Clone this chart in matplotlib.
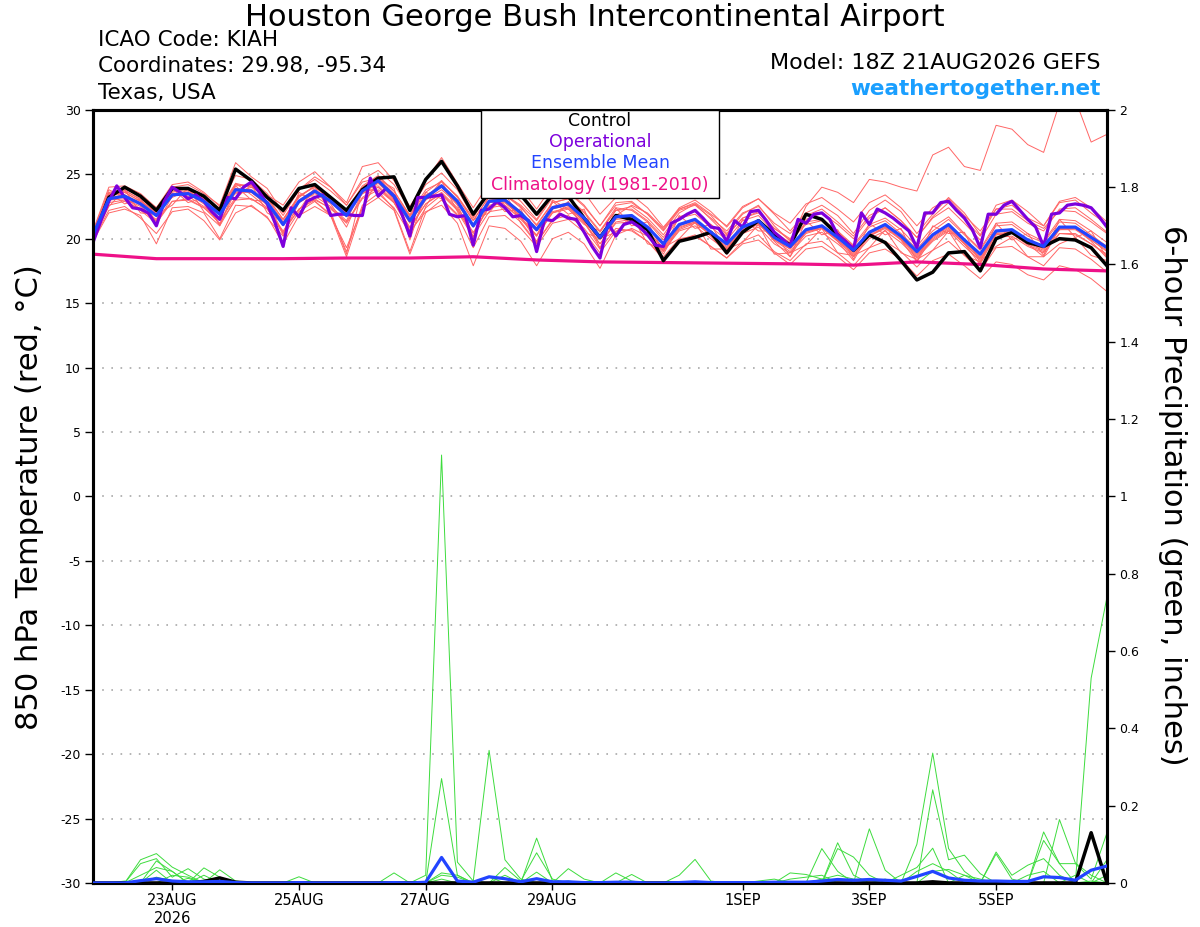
import numpy as np
import matplotlib
matplotlib.use("Agg")
import matplotlib.pyplot as plt
from matplotlib.patches import Rectangle

plt.rcParams['font.family'] = ['DejaVu Sans']
plt.rcParams['axes.unicode_minus'] = False

# ---------------- data ----------------
START = np.datetime64('2026-08-21T18:00')

CONTROL_T = [
    20.0, 23.2, 24.0, 23.3, 22.2, 23.9, 23.9, 23.3, 22.2, 25.4,
    24.5, 23.2, 22.2, 23.9, 24.2, 23.2, 22.2, 23.8, 24.7, 24.8,
    22.2, 24.6, 26.0, 24.1, 21.9, 23.6, 24.0, 23.4, 21.9, 23.4,
    23.3, 21.6, 20.1, 21.8, 21.5, 20.7, 18.3, 19.8, 20.1, 20.5,
    18.9, 20.5, 21.4, 20.3, 19.5, 21.9, 21.5, 20.3, 19.1, 20.3,
    19.7, 18.3, 16.8, 17.4, 18.9, 19.0, 17.5, 20.0, 20.5, 19.7,
    19.4, 20.0, 19.9, 19.3, 17.9]

MEAN_T = [
    20.3, 23.1, 23.3, 22.7, 21.8, 23.4, 23.5, 22.9, 21.9, 23.8,
    23.7, 22.8, 21.1, 22.9, 23.7, 22.9, 21.8, 23.7, 24.5, 23.3,
    21.4, 23.2, 24.1, 22.9, 21.0, 22.9, 23.0, 22.0, 20.7, 22.4,
    22.7, 21.6, 20.1, 21.7, 21.8, 20.9, 19.6, 21.1, 21.5, 20.5,
    19.6, 20.9, 21.4, 20.1, 19.4, 20.7, 21.0, 20.1, 19.1, 20.5,
    21.1, 20.2, 19.0, 20.3, 21.1, 19.9, 18.8, 20.6, 20.7, 19.9,
    19.4, 20.9, 20.9, 20.1, 19.3]

# operational run is 3-hourly
OPER_T = [
    19.7, 21.4, 22.9, 24.1, 23.2, 22.4, 22.3, 22.0, 21.0, 22.9,
    24.0, 23.6, 23.1, 23.4, 22.9, 22.1, 21.5, 23.2, 23.1, 24.0,
    24.4, 23.6, 22.7, 21.2, 19.4, 22.4, 21.7, 22.9, 23.2, 23.4,
    21.8, 21.9, 21.9, 21.8, 21.8, 24.7, 23.3, 23.9, 23.3, 21.9,
    20.2, 23.2, 23.2, 23.3, 23.4, 21.9, 21.7, 21.8, 19.5, 22.2,
    22.3, 22.9, 22.4, 21.7, 21.8, 21.4, 19.0, 21.5, 21.4, 21.9,
    21.6, 21.5, 20.5, 19.4, 18.5, 21.2, 20.2, 21.1, 21.3, 20.9,
    20.3, 19.5, 19.4, 21.2, 21.5, 21.9, 22.2, 21.6, 20.9, 20.8,
    19.8, 21.4, 20.9, 22.1, 22.2, 21.4, 20.5, 20.0, 19.4, 21.5,
    21.2, 21.9, 22.0, 21.5, 20.3, 19.8, 19.2, 22.0, 21.1, 22.3,
    22.0, 21.6, 21.1, 20.6, 19.3, 22.0, 22.0, 22.8, 22.9, 22.2,
    21.6, 20.7, 19.3, 21.9, 21.9, 22.6, 22.9, 22.2, 21.5, 20.9,
    19.4, 21.9, 22.0, 22.6, 22.7, 22.6, 22.4, 21.7, 20.9]

# climatology, daily (18Z)
CLIM_T = [18.8, 18.45, 18.45, 18.45, 18.5, 18.5, 18.6, 18.35, 18.2,
          18.15, 18.1, 18.05, 17.95, 18.2, 18.0, 17.65, 17.5]

MEMBERS_T = [
    [20.6, 24.0, 24.1, 23.5, 22.4, 24.2, 24.4, 23.6, 22.5, 24.9,
     24.6, 23.5, 21.8, 23.8, 24.6, 23.7, 22.6, 24.6, 25.3, 24.2,
     22.3, 24.2, 25.1, 23.8, 21.7, 23.9, 24.0, 22.9, 21.5, 23.4,
     23.7, 22.6, 21.0, 22.8, 22.9, 21.9, 20.6, 22.2, 22.6, 21.6,
     20.6, 22.0, 22.5, 21.2, 20.4, 21.8, 22.3, 21.3, 20.2, 21.8,
     22.4, 21.4, 20.1, 21.6, 22.4, 21.2, 19.9, 21.9, 22.1, 21.2,
     20.6, 22.3, 22.4, 21.5, 20.5],
    [19.8, 22.0, 22.3, 21.8, 19.6, 22.4, 22.5, 22.0, 20.0, 22.6,
     22.5, 21.7, 19.6, 21.8, 22.5, 21.8, 18.6, 22.4, 23.2, 22.2,
     18.8, 22.0, 23.0, 21.8, 19.3, 21.7, 21.8, 20.8, 19.4, 21.2,
     21.5, 20.5, 18.9, 20.6, 20.7, 19.8, 18.4, 19.9, 20.3, 19.4,
     18.5, 19.8, 20.3, 19.0, 18.3, 19.6, 19.8, 18.9, 17.9, 19.3,
     19.8, 19.0, 17.8, 19.1, 19.8, 18.7, 17.5, 19.3, 19.4, 18.6,
     17.9, 19.3, 19.2, 18.4, 17.4],
    [20.1, 23.4, 23.6, 22.9, 22.1, 23.2, 23.8, 23.1, 22.3, 23.5,
     24.0, 23.2, 21.5, 23.2, 24.1, 23.0, 22.0, 24.0, 24.8, 23.7,
     21.8, 23.0, 24.5, 23.2, 21.4, 23.3, 23.4, 22.5, 21.0, 22.8,
     23.1, 22.1, 20.6, 22.2, 22.5, 21.6, 20.3, 22.0, 22.7, 21.8,
     20.4, 21.9, 22.6, 21.0, 19.8, 22.5, 24.0, 23.6, 22.8, 24.6,
     24.4, 24.0, 23.7, 26.5, 27.1, 25.6, 25.3, 28.8, 28.5, 27.3,
     26.7, 30.5, 30.8, 27.5, 28.1],
    [20.0, 22.8, 23.0, 22.2, 21.2, 22.9, 23.1, 22.4, 21.2, 23.0,
     23.1, 22.3, 20.5, 22.3, 23.0, 22.4, 21.2, 23.1, 23.8, 22.8,
     20.8, 22.7, 23.5, 22.3, 20.2, 22.1, 22.3, 21.3, 19.7, 21.5,
     21.8, 20.8, 19.2, 20.8, 20.6, 19.8, 18.6, 20.0, 20.2, 19.4,
     18.5, 19.6, 19.9, 18.9, 18.0, 19.2, 19.4, 18.6, 17.6, 18.9,
     19.2, 18.4, 17.1, 18.3, 18.8, 17.9, 16.9, 18.2, 18.0, 17.2,
     16.8, 17.9, 17.6, 16.9, 15.9],
    [20.4, 23.3, 23.6, 22.9, 22.0, 23.6, 23.9, 23.2, 22.1, 24.1,
     24.2, 23.1, 21.3, 23.3, 24.0, 23.0, 22.0, 23.5, 24.0, 22.8,
     20.6, 22.1, 22.6, 21.2, 17.9, 21.0, 20.8, 19.8, 17.9, 20.0,
     20.5, 19.6, 17.7, 20.3, 20.8, 20.2, 19.0, 20.7, 21.2, 20.3,
     19.2, 20.6, 21.1, 20.0, 19.2, 20.5, 20.9, 19.9, 18.8, 20.2,
     20.8, 19.9, 18.6, 19.9, 20.7, 19.6, 18.5, 20.3, 20.4, 19.5,
     19.0, 20.4, 20.3, 19.6, 18.7],
    [20.2, 23.5, 23.9, 23.3, 22.4, 24.0, 24.2, 23.5, 22.6, 25.9,
     24.8, 23.9, 22.0, 23.8, 24.8, 24.0, 22.8, 25.6, 25.9, 24.5,
     22.5, 24.5, 26.3, 24.3, 22.4, 24.3, 24.8, 23.9, 22.3, 24.1,
     24.6, 23.6, 21.9, 23.2, 23.4, 22.4, 20.9, 22.3, 22.7, 21.5,
     20.3, 21.6, 22.0, 20.8, 19.9, 21.1, 21.4, 20.5, 19.4, 20.9,
     21.4, 20.4, 19.2, 20.6, 21.5, 20.3, 19.1, 21.0, 21.1, 20.2,
     19.7, 21.3, 21.2, 20.3, 19.4],
    [19.9, 22.2, 22.5, 21.6, 20.4, 22.1, 22.3, 21.4, 19.9, 22.0,
     22.6, 21.6, 20.2, 22.1, 22.9, 21.9, 19.0, 22.6, 23.5, 22.4,
     20.4, 22.4, 23.4, 22.2, 20.4, 22.5, 22.8, 21.7, 20.2, 22.0,
     22.5, 21.3, 19.6, 21.3, 21.5, 20.6, 19.2, 20.8, 21.3, 20.2,
     19.3, 20.6, 21.2, 19.9, 19.0, 20.4, 20.8, 19.8, 18.7, 20.2,
     20.9, 20.0, 18.7, 20.0, 20.8, 19.6, 18.4, 20.3, 20.5, 19.6,
     19.1, 20.7, 20.8, 19.9, 19.0],
    [20.5, 23.8, 23.2, 22.3, 21.5, 23.9, 23.3, 22.5, 21.6, 24.3,
     23.4, 22.4, 21.5, 23.4, 23.3, 22.5, 21.4, 23.9, 24.1, 22.9,
     21.9, 23.8, 24.4, 23.3, 21.6, 23.7, 22.6, 21.5, 20.2, 23.0,
     22.3, 21.1, 20.6, 22.4, 22.2, 21.3, 19.9, 21.6, 21.9, 20.9,
     19.9, 21.4, 21.8, 20.5, 19.7, 21.3, 21.5, 20.6, 19.5, 21.1,
     21.6, 20.7, 19.4, 20.9, 21.7, 20.4, 19.2, 21.2, 21.3, 20.4,
     19.8, 21.5, 21.4, 20.6, 19.7],
    [20.1, 22.6, 22.9, 22.3, 21.4, 22.9, 23.0, 22.4, 21.4, 23.2,
     23.1, 22.3, 20.6, 22.3, 23.1, 22.3, 21.3, 23.2, 24.0, 22.8,
     20.9, 22.7, 23.6, 22.4, 20.5, 22.4, 22.6, 21.6, 20.3, 22.0,
     22.3, 21.2, 19.6, 21.2, 21.3, 20.4, 19.1, 20.6, 21.0, 20.0,
     19.1, 20.4, 20.9, 19.6, 18.9, 20.2, 20.5, 19.6, 18.6, 20.0,
     20.6, 19.7, 18.5, 19.8, 20.6, 19.4, 18.3, 20.1, 20.2, 19.4,
     18.9, 20.4, 20.4, 19.6, 18.8],
    [20.3, 23.4, 23.7, 23.1, 22.2, 23.8, 23.9, 23.3, 22.3, 24.2,
     24.1, 23.2, 21.5, 23.3, 24.1, 23.3, 22.2, 24.1, 24.9, 23.7,
     21.8, 23.6, 24.5, 23.3, 21.4, 23.3, 23.4, 22.4, 21.1, 22.8,
     23.1, 22.0, 20.5, 22.2, 22.3, 21.4, 20.1, 21.7, 22.1, 21.1,
     20.2, 21.6, 22.1, 20.8, 20.0, 21.5, 22.0, 21.1, 20.0, 21.6,
     22.4, 21.4, 20.1, 21.7, 22.8, 21.5, 20.2, 22.3, 22.6, 21.6,
     21.0, 22.8, 23.0, 22.0, 21.1],
    [20.2, 23.0, 23.1, 22.5, 21.9, 23.5, 23.6, 23.0, 22.4, 24.3,
     24.0, 23.4, 22.6, 24.4, 25.2, 24.0, 22.6, 24.4, 24.7, 23.5,
     21.7, 23.4, 24.0, 22.7, 20.9, 22.6, 22.8, 21.8, 20.6, 22.1,
     22.4, 21.4, 19.9, 21.5, 21.6, 20.6, 19.3, 20.9, 21.3, 20.3,
     19.4, 20.7, 21.2, 19.9, 19.2, 20.5, 20.8, 19.9, 18.9, 20.3,
     20.9, 20.0, 18.8, 20.1, 20.9, 19.7, 18.6, 20.4, 20.5, 19.7,
     19.2, 20.7, 20.7, 19.9, 19.1],
    [20.0, 22.5, 23.8, 22.0, 21.9, 22.6, 24.0, 22.1, 21.0, 24.1,
     23.0, 22.9, 20.4, 23.6, 22.9, 21.8, 19.3, 22.4, 24.6, 23.9,
     19.9, 23.6, 23.1, 21.9, 21.5, 22.0, 23.6, 21.2, 19.6, 22.9,
     21.9, 22.3, 19.2, 22.4, 21.0, 21.3, 19.0, 21.8, 20.8, 21.1,
     19.0, 21.5, 20.6, 20.6, 18.6, 21.4, 20.3, 20.7, 18.4, 21.2,
     20.3, 20.8, 18.2, 21.0, 20.4, 20.5, 18.1, 21.2, 19.9, 20.4,
     18.7, 21.5, 20.1, 20.6, 18.5],
    [20.4, 23.2, 23.4, 22.8, 21.9, 23.5, 23.6, 23.0, 22.0, 23.9,
     23.8, 22.9, 21.2, 23.0, 23.8, 23.0, 21.9, 23.8, 24.6, 23.4,
     21.5, 23.3, 24.2, 23.0, 21.1, 23.0, 23.1, 22.1, 20.8, 22.5,
     22.8, 21.7, 20.2, 21.8, 22.6, 22.0, 20.8, 22.4, 23.0, 22.1,
     20.9, 22.4, 23.1, 21.9, 20.6, 22.0, 22.6, 21.8, 20.4, 22.2,
     23.0, 22.1, 20.4, 21.9, 23.2, 22.0, 20.3, 22.6, 23.0, 22.1,
     21.0, 22.9, 23.2, 22.4, 21.3],
    [20.2, 23.0, 23.4, 22.6, 21.1, 23.3, 23.5, 22.7, 21.1, 23.7,
     23.6, 22.6, 20.3, 22.8, 23.6, 22.7, 20.9, 23.6, 24.4, 23.0,
     20.6, 23.1, 24.0, 22.6, 20.1, 22.8, 22.9, 21.7, 19.8, 22.3,
     22.6, 21.3, 19.3, 21.6, 21.7, 20.6, 18.8, 21.0, 21.4, 20.2,
     18.8, 20.8, 21.3, 19.8, 18.6, 20.6, 20.9, 19.8, 18.3, 20.4,
     21.0, 19.9, 18.2, 20.2, 21.0, 19.6, 18.0, 20.5, 20.6, 19.6,
     18.6, 20.8, 20.8, 19.8, 18.5],
    [20.6, 23.6, 23.8, 23.0, 22.0, 23.7, 23.7, 23.0, 21.8, 23.6,
     23.6, 22.7, 21.0, 22.8, 23.5, 22.8, 21.7, 23.5, 24.3, 23.1,
     21.2, 23.0, 23.8, 22.7, 20.9, 22.9, 23.4, 22.6, 21.4, 23.2,
     23.6, 22.5, 21.0, 22.6, 22.8, 21.9, 20.7, 22.3, 22.8, 21.9,
     21.0, 22.5, 23.1, 22.0, 21.2, 22.7, 23.2, 22.3, 21.3, 22.8,
     23.4, 22.4, 21.0, 22.4, 23.1, 21.8, 20.6, 22.3, 22.3, 21.4,
     20.8, 22.2, 22.1, 21.3, 20.4],
    [20.1, 23.6, 22.7, 23.1, 21.3, 23.9, 22.8, 23.2, 21.0, 23.1,
     24.2, 22.0, 21.3, 22.2, 24.0, 22.1, 18.8, 23.9, 23.7, 22.3,
     19.0, 22.5, 24.5, 22.1, 20.1, 23.4, 22.1, 22.3, 19.7, 21.4,
     22.9, 20.5, 20.0, 20.5, 21.8, 19.6, 19.3, 20.0, 21.3, 19.2,
     19.2, 19.7, 21.1, 18.8, 18.9, 19.5, 20.8, 18.9, 18.7, 19.3,
     20.7, 18.9, 18.4, 19.1, 20.6, 18.7, 18.2, 19.4, 20.1, 18.6,
     18.6, 19.6, 20.1, 18.7, 18.3],
]

# 6-hour precipitation (inches)
MEAN_P = [
    0, 0, 0, 0.006, 0.011, 0.005, 0.003, 0.003, 0.004, 0.001,
    0, 0, 0, 0.001, 0, 0, 0, 0, 0, 0.001,
    0, 0.002, 0.066, 0.005, 0.002, 0.016, 0.011, 0.003, 0.011, 0.003,
    0.003, 0.001, 0.001, 0.002, 0.002, 0, 0, 0.001, 0.003, 0.001,
    0.001, 0.001, 0.001, 0.002, 0.002, 0.002, 0.005, 0.009, 0.007, 0.009,
    0.007, 0.005, 0.017, 0.030, 0.013, 0.007, 0.005, 0.005, 0.004, 0.004,
    0.016, 0.014, 0.007, 0.033, 0.044]

CONTROL_P = [
    0, 0, 0, 0, 0, 0, 0, 0.004, 0.013, 0.002,
    0, 0, 0, 0, 0, 0, 0, 0, 0, 0,
    0, 0, 0, 0, 0, 0, 0, 0, 0, 0,
    0, 0, 0, 0, 0, 0, 0, 0, 0, 0,
    0, 0, 0, 0, 0, 0, 0, 0, 0, 0,
    0, 0, 0, 0.003, 0, 0, 0, 0, 0, 0,
    0, 0, 0, 0.13, 0]

# member precipitation: {6h step index: inches}, other steps are zero
MEMBERS_P = [
    {3: 0.06, 4: 0.076, 5: 0.041, 6: 0.02, 21: 0.02, 22: 1.107, 23: 0.054,
     24: 0.005, 52: 0.10, 53: 0.336, 54: 0.089, 55: 0.03},
    {3: 0.05, 4: 0.063, 5: 0.015, 6: 0.037, 7: 0.01, 22: 0.27, 23: 0.02,
     46: 0.089, 47: 0.03, 53: 0.241, 54: 0.06, 55: 0.072, 56: 0.024},
    {2: 0.005, 4: 0.057, 5: 0.03, 7: 0.039, 8: 0.015, 24: 0.005, 25: 0.343,
     26: 0.06, 27: 0.01, 49: 0.14, 50: 0.033, 63: 0.53, 64: 0.74},
    {4: 0.033, 6: 0.012, 8: 0.034, 9: 0.005, 22: 0.026, 23: 0.02, 28: 0.116,
     29: 0.005, 47: 0.104, 48: 0.02, 60: 0.132, 61: 0.05, 62: 0.05, 63: 0.01,
     64: 0.13},
    {4: 0.015, 5: 0.005, 13: 0.016, 26: 0.04, 27: 0.005, 28: 0.078, 29: 0.01,
     47: 0.089, 48: 0.067, 49: 0.02, 61: 0.164, 62: 0.052, 63: 0.02},
    {19: 0.026, 28: 0.028, 30: 0.037, 31: 0.01, 33: 0.026, 34: 0.005, 57: 0.08,
     58: 0.02, 59: 0.046, 60: 0.063, 61: 0.02, 64: 0.06},
    {7: 0.02, 34: 0.022, 37: 0.02, 38: 0.061, 39: 0.005, 44: 0.026, 45: 0.022,
     46: 0.01, 52: 0.03, 53: 0.05, 54: 0.03, 60: 0.11, 61: 0.05},
    {3: 0.02, 4: 0.04, 5: 0.03, 22: 0.01, 26: 0.02, 44: 0.01, 45: 0.015,
     46: 0.02, 51: 0.02, 52: 0.04, 53: 0.09, 57: 0.075, 58: 0.01, 64: 0.02},
    {22: 0.02, 23: 0.015, 25: 0.015, 28: 0.01, 46: 0.01, 47: 0.02, 48: 0.01,
     55: 0.02, 56: 0.01, 59: 0.02, 60: 0.03, 62: 0.02},
    {5: 0.02, 6: 0.015, 30: 0.005, 42: 0.005, 43: 0.01, 50: 0.01, 53: 0.03,
     54: 0.035, 55: 0.02, 63: 0.005},
]

TICK_DATES = ['2026-08-23', '2026-08-25', '2026-08-27', '2026-08-29',
              '2026-09-01', '2026-09-03', '2026-09-05']
TICK_LABELS = ['23AUG\n2026', '25AUG', '27AUG', '29AUG', '1SEP', '3SEP', '5SEP']

N_STEPS = 65


def times(n, hours):
    return START + np.arange(n) * np.timedelta64(hours, 'h')


# ---------------- colours ----------------
C_MEMBER = '#ff6666'
C_GREEN = '#3ddc3d'
C_CONTROL = '#000000'
C_OPER = '#7d00dc'
C_MEAN = '#2244ff'
C_CLIM = '#ee1188'

# ---------------- figure ----------------
fig = plt.figure(figsize=(12, 9.27), dpi=100)
ax = fig.add_axes([0.0775, 0.0475, 0.845, 0.834])

t6 = times(N_STEPS, 6)
for m in MEMBERS_T:
    ax.plot(times(len(m), 6), m, color=C_MEMBER, lw=0.7, zorder=2)
ax.plot(times(len(CLIM_T), 24), CLIM_T, color=C_CLIM, lw=2.3, zorder=3)
ax.plot(times(len(CONTROL_T), 6), CONTROL_T, color=C_CONTROL, lw=2.5, zorder=4)
ax.plot(times(len(OPER_T), 3), OPER_T, color=C_OPER, lw=2.3, zorder=5)
ax.plot(times(len(MEAN_T), 6), MEAN_T, color=C_MEAN, lw=2.3, zorder=6)

ax.set_xlim(t6[0], t6[-1])
ax.set_ylim(-30, 30)
ax.set_yticks(np.arange(-30, 31, 5))
ax.set_yticklabels([str(v) for v in range(-30, 31, 5)])
ax.grid(axis='y', linestyle=(0, (1, 4.5)), color='#a8a8a8', lw=1.2)
ax.set_axisbelow(True)

ax.set_xticks([np.datetime64(d + 'T00:00') for d in TICK_DATES])
ax.set_xticklabels(TICK_LABELS)
for lbl in ax.get_xticklabels():
    lbl.set_linespacing(1.3)
ax.tick_params(axis='x', direction='out', length=5, width=1, labelsize=10.5, pad=2)
ax.tick_params(axis='y', direction='out', length=6, width=1, labelsize=9, pad=3)

# precipitation on right axis
ax2 = ax.twinx()
for d in MEMBERS_P:
    arr = np.zeros(N_STEPS)
    for k, v in d.items():
        arr[k] = v
    ax2.plot(t6, arr, color=C_GREEN, lw=0.7, zorder=2)
ax2.plot(times(len(CONTROL_P), 6), CONTROL_P, color=C_CONTROL, lw=2.5, zorder=4)
ax2.plot(times(len(MEAN_P), 6), MEAN_P, color=C_MEAN, lw=2.3, zorder=5)
ax2.set_ylim(0, 2)
pt = np.round(np.arange(0, 2.01, 0.2), 1)
ax2.set_yticks(pt)
ax2.set_yticklabels(['%g' % v for v in pt])
ax2.tick_params(axis='y', direction='out', length=6, width=1, labelsize=9, pad=3)
ax2.set_xlim(t6[0], t6[-1])

for a in (ax, ax2):
    for s in a.spines.values():
        s.set_linewidth(2.2)

# legend box
ax2.add_patch(Rectangle((0.3823, 0.886), 0.2351, 0.114, transform=ax2.transAxes,
                        facecolor='white', edgecolor='black', lw=1.0,
                        zorder=20, clip_on=False))
for txt, col, yy in [('Control', C_CONTROL, 0.9858),
                     ('Operational', C_OPER, 0.9586),
                     ('Ensemble Mean', C_MEAN, 0.9314),
                     ('Climatology (1981-2010)', C_CLIM, 0.9030)]:
    ax2.text(0.5, yy, txt, color=col, fontsize=12.5, ha='center', va='center',
             transform=ax2.transAxes, zorder=21)

# titles and annotations
fig.text(0.496, 0.9806, 'Houston George Bush Intercontinental Airport',
         fontsize=22, ha='center', va='center')
fig.text(0.0817, 0.9569, 'ICAO Code: KIAH', fontsize=15.5, ha='left', va='center')
fig.text(0.0817, 0.9288, 'Coordinates: 29.98, -95.34', fontsize=15.5, ha='left', va='center')
fig.text(0.0817, 0.8997, 'Texas, USA', fontsize=15.5, ha='left', va='center')
fig.text(0.9175, 0.932, 'Model: 18Z 21AUG2026 GEFS', fontsize=16, ha='right', va='center')
fig.text(0.9175, 0.904, 'weathertogether.net', fontsize=15.5, fontweight='bold',
         color='#1a9fff', ha='right', va='center')

fig.text(0.025, 0.464, '850 hPa Temperature (red, °C)', fontsize=22,
         rotation=90, ha='center', va='center')
fig.text(0.977, 0.466, '6-hour Precipitation (green, inches)', fontsize=22,
         rotation=270, ha='center', va='center')

fig.savefig('out.png', dpi=100, facecolor='white')
